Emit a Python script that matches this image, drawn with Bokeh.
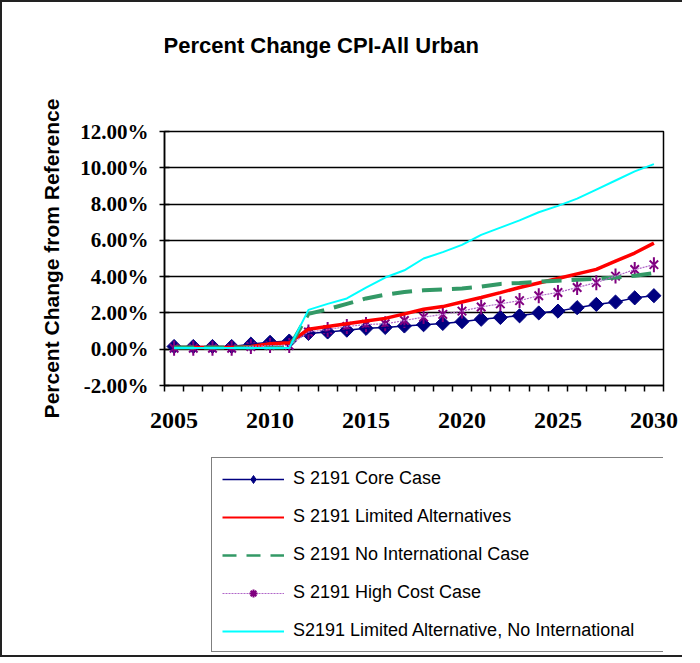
import numpy as np
from bokeh.plotting import figure
from bokeh.layouts import column
from bokeh.models import (FixedTicker, PrintfTickFormatter, Legend, LegendItem,
                          Range1d, ColumnDataSource, Label)
from bokeh.embed import file_html
from bokeh.resources import INLINE

years = list(range(2005, 2031))
core_case = [0.15, 0.15, 0.15, 0.15, 0.28, 0.38, 0.45,
             0.87, 0.95, 1.05, 1.15, 1.20, 1.28, 1.35, 1.42, 1.52, 1.65, 1.75,
             1.84, 2.00, 2.10, 2.29, 2.47, 2.60, 2.83, 2.95]
limited_alt = [0.10, 0.10, 0.10, 0.10, 0.15, 0.30, 0.35,
               1.10, 1.25, 1.40, 1.55, 1.70, 1.95, 2.20, 2.35, 2.60, 2.85, 3.12,
               3.40, 3.65, 3.90, 4.15, 4.40, 4.85, 5.30, 5.85]
no_intl = [0.10, 0.10, 0.10, 0.10, 0.10, 0.10, 0.10,
           1.95, 2.20, 2.50, 2.80, 3.00, 3.15, 3.25, 3.30, 3.35, 3.45, 3.60,
           3.65, 3.72, 3.78, 3.83, 3.88, 3.95, 4.05, 4.20]
high_cost = [0.05, 0.05, 0.05, 0.05, 0.15, 0.20, 0.20,
             0.95, 1.08, 1.25, 1.36, 1.40, 1.58, 1.77, 1.92, 2.10, 2.33, 2.50,
             2.68, 2.95, 3.13, 3.40, 3.67, 4.03, 4.39, 4.66]
lim_alt_no_intl = [0.07, 0.07, 0.07, 0.07, 0.07, 0.07, 0.07,
                   2.17, 2.50, 2.80, 3.40, 3.95, 4.35, 5.00, 5.35, 5.75, 6.30, 6.70,
                   7.10, 7.55, 7.90, 8.30, 8.80, 9.30, 9.80, 10.20]
series_names = ["S 2191 Core Case", "S 2191 Limited Alternatives",
                "S 2191 No International Case", "S 2191 High Cost Case",
                "S2191 Limited Alternative, No International"]
chart_title = "Percent Change CPI-All Urban"
y_title = "Percent Change from Reference"
label_years = [2005, 2010, 2015, 2020, 2025, 2030]
y_ticks = [-2, 0, 2, 4, 6, 8, 10, 12]

C_CORE, C_LIM, C_NOI, C_HC, C_HCL, C_LANI = ("#000080", "#FF0000", "#339966",
                                              "#800080", "#B066C8", "#00FFFF")
BORDER = "2px solid #222"

src = ColumnDataSource(dict(x=years, core=core_case, lim=limited_alt, noi=no_intl,
                            hc=high_cost, lani=lim_alt_no_intl))

# ---- title strip ----
t = figure(width=682, height=60, x_range=Range1d(0, 1), y_range=Range1d(0, 1),
           output_backend="svg", toolbar_location=None,
           x_axis_type=None, y_axis_type=None,
           min_border_left=0, min_border_right=0, min_border_top=0, min_border_bottom=0,
           background_fill_color="white", border_fill_color="white",
           styles={"border-left": BORDER, "border-top": BORDER})
t.outline_line_color = None
t.grid.visible = False
t.add_layout(Label(x=0, y=0.28, x_offset=-1, text=chart_title,
                   text_font="Liberation Sans", text_font_style="bold",
                   text_font_size="22px", text_color="black",
                   text_align="left", text_baseline="middle"))

# ---- main chart ----
p = figure(width=682, height=383,
           x_range=Range1d(years[0] - 0.5, years[-1] + 0.5),
           y_range=Range1d(y_ticks[0], y_ticks[-1]),
           output_backend="svg", toolbar_location=None,
           min_border_left=162, min_border_right=21,
           min_border_top=71, min_border_bottom=58,
           background_fill_color="white", border_fill_color="white",
           styles={"border-left": BORDER})

p.outline_line_color = "black"
p.outline_line_width = 1.5
p.xgrid.visible = False
p.ygrid.grid_line_color = "black"
p.ygrid.grid_line_width = 1.5
p.ygrid.ticker = FixedTicker(ticks=y_ticks)

xa = p.xaxis[0]
xa.ticker = FixedTicker(ticks=label_years,
                        minor_ticks=[y - 0.5 for y in years] + [years[-1] + 0.5])
xa.major_tick_line_color = None
xa.major_tick_in = 0
xa.major_tick_out = 0
xa.minor_tick_in = 0
xa.minor_tick_out = 6
xa.minor_tick_line_color = "black"
xa.minor_tick_line_width = 1.5
xa.axis_line_width = 1.5
xa.axis_line_color = "black"
xa.major_label_text_font = "Liberation Serif"
xa.major_label_text_font_style = "bold"
xa.major_label_text_font_size = "24px"
xa.major_label_text_color = "black"
xa.major_label_standoff = 21

ya = p.yaxis[0]
ya.ticker = FixedTicker(ticks=y_ticks)
ya.formatter = PrintfTickFormatter(format="%.2f%%")
ya.major_tick_in = 5
ya.major_tick_out = 5
ya.major_tick_line_width = 1.5
ya.minor_tick_line_color = None
ya.axis_line_width = 1.5
ya.axis_line_color = "black"
ya.major_label_text_font = "Liberation Serif"
ya.major_label_text_font_style = "bold"
ya.major_label_text_font_size = "21px"
ya.major_label_text_color = "black"
ya.major_label_standoff = 11
ya.axis_label = y_title
ya.axis_label_text_font = "Liberation Sans"
ya.axis_label_text_font_style = "bold"
ya.axis_label_text_font_size = "21px"
ya.axis_label_text_color = "black"
ya.axis_label_standoff = 14


def draw_series(fig, src, leg=False):
    if leg:
        core_m = fig.scatter("x", "core", source=src, marker="diamond", size=12,
                             fill_color=C_CORE, line_color=C_CORE)
        hc_m = [fig.scatter("x", "hc", source=src, marker="asterisk", size=11,
                            line_color=C_HC, line_width=2)]
    else:
        core_m = fig.scatter("x", "core", source=src, marker="square",
                             angle=np.pi / 4, size=10,
                             fill_color=C_CORE, line_color=C_CORE)
        hc_m = [fig.scatter("x", "hc", source=src, marker="x", size=12,
                            line_color=C_HC, line_width=2),
                fig.scatter("x", "hc", source=src, marker="dash", angle=np.pi / 2,
                            size=15, line_color=C_HC, line_width=2)]
    core = [fig.line("x", "core", source=src, line_color=C_CORE, line_width=1.5),
            core_m]
    lim = [fig.line("x", "lim", source=src, line_color=C_LIM,
                    line_width=2 if leg else 3.5)]
    noi = [fig.line("x", "noi", source=src, line_color=C_NOI,
                    line_width=2.5 if leg else 4,
                    line_dash="14 10" if leg else "20 10")]
    hc = [fig.line("x", "hc", source=src, line_color=C_HCL, line_width=1.2,
                   line_dash="2 1")] + hc_m
    lani = [fig.line("x", "lani", source=src, line_color=C_LANI, line_width=2)]
    return [core, lim, noi, hc, lani]


draw_series(p, src)

# ---- legend strip (its ranges exclude the data, so only the legend shows) ----
q = figure(width=682, height=214, x_range=Range1d(0, 1), y_range=Range1d(0, 1),
           output_backend="svg", toolbar_location=None,
           x_axis_type=None, y_axis_type=None,
           min_border_left=0, min_border_right=0, min_border_top=0, min_border_bottom=0,
           background_fill_color="white", border_fill_color="white",
           styles={"border-left": BORDER, "border-bottom": BORDER})
q.outline_line_color = None
q.grid.visible = False
leg_renderers = draw_series(q, src, leg=True)

legend = Legend(items=[LegendItem(label=n, renderers=r)
                       for n, r in zip(series_names, leg_renderers)],
                location=(47, 5))
legend.glyph_width = 62
legend.glyph_height = 20
legend.label_height = 20
legend.label_width = 360
legend.spacing = 17
legend.padding = 10
legend.margin = 0
legend.label_standoff = 9
legend.label_text_font = "Liberation Sans"
legend.label_text_font_size = "18px"
legend.label_text_color = "black"
legend.border_line_color = "black"
legend.border_line_width = 1.5
legend.background_fill_color = "white"
legend.background_fill_alpha = 1.0
q.add_layout(legend, "center")

layout = column(t, p, q, spacing=0)
open("out.html", "w").write(file_html(layout, INLINE))
